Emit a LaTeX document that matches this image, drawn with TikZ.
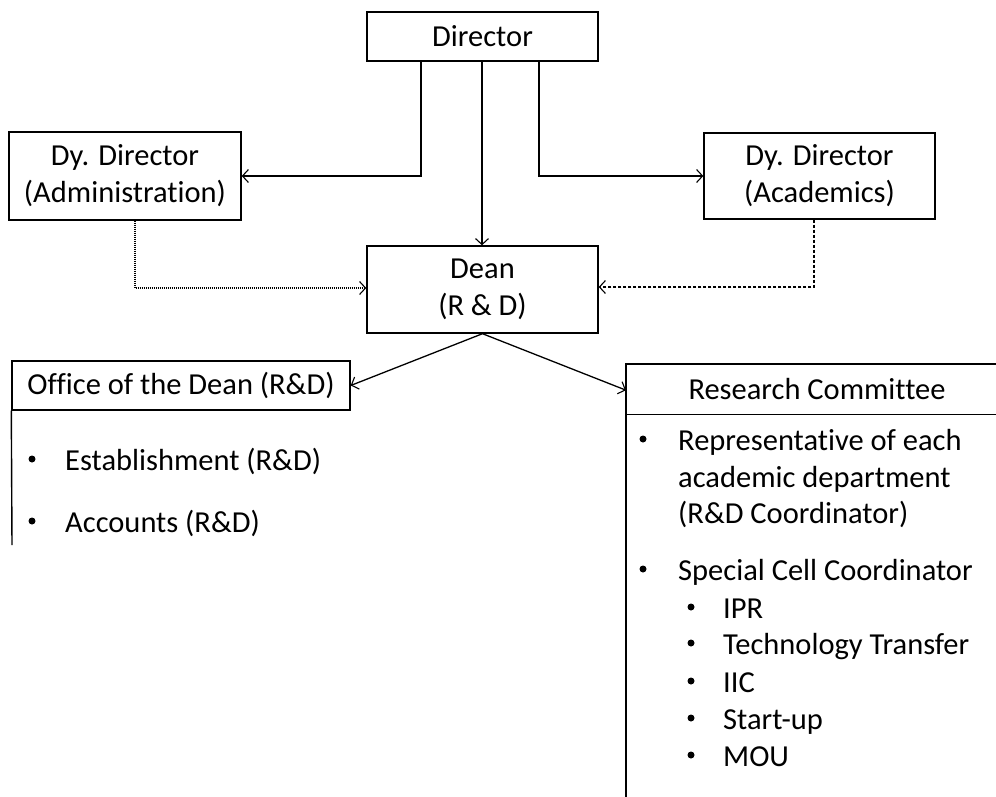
\documentclass[tikz,border=0pt]{standalone}
\usepackage{fontspec}
\setmainfont{Carlito}[Ligatures={NoCommon}]
\usetikzlibrary{arrows.meta}
\begin{document}
\begin{tikzpicture}[x=1pt,y=-1pt,
  txt/.style={font=\fontsize{30.5}{37}\selectfont, inner sep=0pt},
  box/.style={draw, line width=1.4pt, txt, align=center},
  conn/.style={line width=1.3pt, -{Straight Barb[length=6pt,width=13pt,line width=1.1pt]}},
  dotline/.style={conn, dash pattern=on 1pt off 1pt, line width=1.1pt},
  dashline/.style={conn, dash pattern=on 3pt off 2pt, line width=1.1pt},
  bul/.style={circle, fill, inner sep=0pt, minimum size=7pt},
  item/.style={txt, anchor=base west}]
\useasboundingbox (0,0) rectangle (996,797);
\fill[white] (0,0) rectangle (996,797);

\node[box, minimum width=231, minimum height=49] (dir) at (482.5,36.5) {Director};
\node[box, minimum width=232, minimum height=88] (admin) at (125,176) {Dy. Director\\(Administration)};
\node[box, minimum width=231, minimum height=86] (acad) at (819.5,176) {Dy. Director\\(Academics)};
\node[box, minimum width=231, minimum height=87] (dean) at (482.5,289.5) {Dean\\(R \& D)};
\node[box, minimum width=338, minimum height=49] (office) at (181,385.5) {Office of the Dean (R\&D)};
\node[minimum width=400, minimum height=50, inner sep=0pt, anchor=north west] (rc) at (626,364) {};
\node[txt] (rctitle) at (817,389) {Research Committee};

% Research committee frame (open at right)
\draw[line width=1.4pt] (rc.north east) -- (rc.north west) -- (rc.south west) -- (rc.south east);
\coordinate (rcbot) at (626,797);
\draw[line width=1.4pt] (rc.south west) -- (rcbot);
% Office side line
\coordinate (offbot) at (12,545);
\draw[line width=1.4pt] (office.south west) -- (offbot);

% connectors
\draw[conn] ([xshift=-61.5]dir.south) |- (admin.east);
\draw[conn] ([xshift=56.5]dir.south) |- (acad.west);
\draw[conn, line width=1.5pt] ([xshift=-0.5]dir.south) -- ([xshift=-0.5]dean.north);
\draw[dotline] ([xshift=10]admin.south) |- ([yshift=1.5]dean.west);
\draw[dashline] ([xshift=-5.5]acad.south) |- ([yshift=2.5]dean.west -| dean.east);
\draw[conn] (dean.south) -- (office.east);
\draw[conn] (dean.south) -- ([yshift=-1]rc.west);

% Office items
\node[bul] (ob1) at (32,459) {};
\node[item] (oi1) at (65,470) {Establishment (R\&D)};
\node[bul] (ob2) at (32,521) {};
\node[item] (oi2) at (65,532) {Accounts (R\&D)};

% Research committee items
\node[bul] (rb1) at (643,439) {};
\node[item] (ri1) at (678,450) {Representative of each};
\node[item] (ri1b) at (678,487) {academic department};
\node[item] (ri1c) at (678,523) {(R\&D Coordinator)};
\node[bul] (rb2) at (643,569) {};
\node[item] (ri2) at (678,580) {Special Cell Coordinator};
\node[bul] (sb1) at (691,607) {};
\node[item] (si1) at (723,618) {IPR};
\node[bul] (sb2) at (691,643) {};
\node[item] (si2) at (723,654) {Technology Transfer};
\node[bul] (sb3) at (691,681) {};
\node[item] (si3) at (723,692) {IIC};
\node[bul] (sb4) at (691,718) {};
\node[item] (si4) at (723,729) {Start-up};
\node[bul] (sb5) at (691,755) {};
\node[item] (si5) at (723,766) {MOU};
\end{tikzpicture}
\end{document}
